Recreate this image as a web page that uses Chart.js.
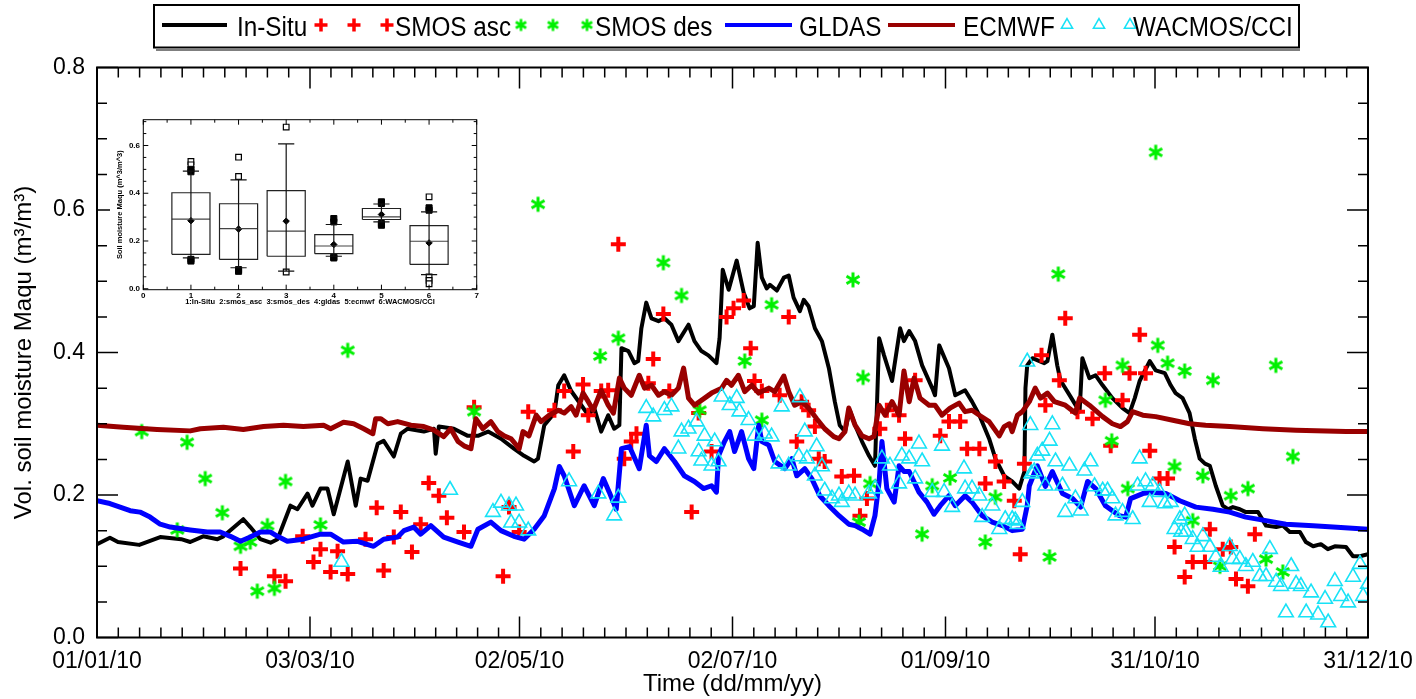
<!DOCTYPE html>
<html lang="en">
  <head>
    <meta charset="UTF-8" />
    <title>Soil moisture Maqu 2010</title>
    <style>
      body {
        margin: 0;
        background: #fff;
      }
      .wrap {
        position: relative;
        width: 1416px;
        height: 699px;
      }
      #mainChart {
        position: absolute;
        left: 0;
        top: 0;
      }
      #insetChart {
        position: absolute;
        left: 110px;
        top: 108px;
        background: #fff;
      }
    </style>
    <script src="https://cdn.jsdelivr.net/npm/chart.js"></script>
  </head>
  <body>
    <div class="wrap">
      <canvas id="mainChart" width="1416" height="699"></canvas>
      <canvas id="insetChart" width="380" height="205"></canvas>
    </div>

    <script>
      // day of year 2010 (0 = 01/01/10)
      const tickDays = [0, 61, 121, 182, 243, 303, 364];
      const tickLabels = ["01/01/10", "03/03/10", "02/05/10", "02/07/10", "01/09/10", "31/10/10", "31/12/10"];
      const yTickValues = [0, 0.2, 0.4, 0.6, 0.8];

      const inSituDays = [0, 3.7, 6, 12.1, 18.1, 24.1, 26.7, 30.4, 34.5, 36.2, 41.9, 43.9, 46.8, 49.7, 51.7, 55.4, 57.4, 60.3, 61.7, 64, 66, 67.8, 71.8, 74.1, 75.5, 77.5, 80.4, 82.1, 85, 87, 89, 93.6, 96.5, 97, 97.9, 102.2, 106.2, 109.1, 112, 115.7, 119.4, 122.3, 125.2, 126.3, 128.1, 131, 132.1, 133.8, 135.8, 138.7, 140.7, 142.4, 144.4, 146.4, 148.1, 149.6, 150.2, 152.2, 153.9, 155, 155.9, 157.3, 158.8, 160.8, 162.5, 164.5, 166.5, 169.4, 171.1, 173.1, 175.1, 177.4, 178.3, 179.2, 180.9, 183.2, 185.2, 186.9, 188.1, 189.2, 190.4, 191.8, 192.7, 194.7, 196.7, 198.1, 199.5, 201.3, 202.4, 203.8, 205.6, 207.6, 209.6, 211.3, 212.7, 214.2, 215.6, 217.1, 219.1, 221.1, 222.8, 224, 225.4, 227.7, 230, 231.1, 232.6, 234.3, 236.3, 239.2, 240, 241.2, 244, 245.8, 248.6, 250.6, 252.7, 255.5, 257.3, 259.8, 262.1, 264.1, 265.6, 265.9, 266.4, 267.9, 269.9, 271.3, 272.2, 273.6, 275, 275.9, 278.8, 281.4, 282.2, 284.2, 286, 288, 290.8, 293.7, 295.7, 297.2, 298.6, 301.5, 303.2, 305.8, 307.5, 308.9, 310.9, 312.9, 314.4, 315.8, 317.3, 318.7, 320.4, 322.4, 323.9, 325.3, 327.3, 329, 332.5, 334.8, 337.7, 339.6, 341.6, 344.5, 346.2, 348.3, 350.5, 352.5, 354.5, 357.7, 359.7, 361.7, 364];
      const inSituValues = [0.131, 0.14, 0.134, 0.13, 0.141, 0.138, 0.134, 0.142, 0.138, 0.142, 0.166, 0.155, 0.138, 0.133, 0.138, 0.185, 0.18, 0.202, 0.185, 0.209, 0.209, 0.173, 0.247, 0.185, 0.223, 0.22, 0.272, 0.276, 0.254, 0.286, 0.293, 0.289, 0.293, 0.258, 0.296, 0.293, 0.283, 0.283, 0.289, 0.279, 0.265, 0.255, 0.247, 0.251, 0.298, 0.315, 0.354, 0.368, 0.346, 0.326, 0.312, 0.322, 0.289, 0.312, 0.293, 0.298, 0.406, 0.402, 0.385, 0.388, 0.434, 0.47, 0.448, 0.444, 0.448, 0.439, 0.416, 0.439, 0.416, 0.402, 0.396, 0.385, 0.42, 0.516, 0.488, 0.529, 0.484, 0.462, 0.465, 0.554, 0.505, 0.49, 0.495, 0.487, 0.505, 0.508, 0.477, 0.458, 0.474, 0.465, 0.434, 0.416, 0.378, 0.331, 0.298, 0.289, 0.319, 0.298, 0.275, 0.255, 0.241, 0.42, 0.396, 0.36, 0.434, 0.416, 0.43, 0.416, 0.382, 0.35, 0.34, 0.41, 0.378, 0.34, 0.347, 0.331, 0.312, 0.279, 0.251, 0.227, 0.219, 0.209, 0.233, 0.35, 0.382, 0.392, 0.388, 0.385, 0.388, 0.425, 0.382, 0.361, 0.338, 0.317, 0.392, 0.364, 0.368, 0.354, 0.336, 0.322, 0.315, 0.336, 0.36, 0.388, 0.375, 0.371, 0.354, 0.343, 0.336, 0.315, 0.279, 0.251, 0.244, 0.241, 0.213, 0.185, 0.18, 0.183, 0.18, 0.176, 0.176, 0.157, 0.155, 0.157, 0.148, 0.148, 0.134, 0.128, 0.131, 0.124, 0.128, 0.127, 0.114, 0.114, 0.117];

      const gldasDays = [0, 3.7, 9.5, 12.3, 15.2, 18.1, 21, 26.7, 31.6, 35.3, 38.2, 41.1, 43.9, 46.8, 49.7, 51.7, 54.5, 59.1, 64, 66.9, 70.6, 74.6, 79.2, 82.1, 86.1, 87.9, 90.7, 92.7, 95.6, 99.3, 103.4, 107.1, 109.1, 112.8, 115.7, 119.4, 122.3, 125.2, 128.1, 131, 132.4, 133.8, 136.7, 139.5, 142.4, 145, 146.7, 148.7, 150.2, 152.5, 155.3, 157.3, 158.2, 160.2, 162.5, 165.4, 168.2, 171.1, 173.7, 176, 177.4, 178, 179.7, 181.2, 182.6, 184.6, 186.6, 188.1, 189.5, 190.4, 192.4, 194.1, 197, 199, 200.4, 202.7, 204.7, 207, 209.6, 212.5, 215.3, 217.1, 219.1, 221.4, 222.8, 224, 224.8, 226.2, 228.3, 229.7, 231.1, 232.6, 235.4, 237.7, 239.7, 241.5, 244, 245.8, 248.6, 250.6, 253.5, 256.4, 259.3, 262.1, 265, 266.4, 267, 269.3, 271.6, 273.6, 276.5, 279.4, 281.7, 283.7, 286, 288.8, 292.8, 294.6, 296, 299.5, 302.3, 306.1, 310.1, 314.7, 319.6, 324.4, 329, 334.8, 340.5, 348.3, 354, 364];
      const gldasValues = [0.192, 0.188, 0.178, 0.176, 0.169, 0.159, 0.155, 0.151, 0.148, 0.148, 0.142, 0.135, 0.141, 0.148, 0.148, 0.142, 0.135, 0.138, 0.145, 0.145, 0.134, 0.135, 0.128, 0.138, 0.141, 0.15, 0.155, 0.145, 0.157, 0.141, 0.134, 0.128, 0.152, 0.162, 0.15, 0.142, 0.138, 0.152, 0.171, 0.209, 0.24, 0.227, 0.185, 0.213, 0.185, 0.223, 0.204, 0.18, 0.265, 0.268, 0.237, 0.298, 0.255, 0.247, 0.265, 0.247, 0.227, 0.219, 0.209, 0.213, 0.204, 0.255, 0.275, 0.289, 0.261, 0.289, 0.251, 0.237, 0.298, 0.275, 0.27, 0.247, 0.237, 0.251, 0.227, 0.237, 0.223, 0.199, 0.185, 0.171, 0.159, 0.157, 0.152, 0.145, 0.171, 0.219, 0.275, 0.209, 0.19, 0.241, 0.233, 0.233, 0.204, 0.19, 0.173, 0.185, 0.199, 0.185, 0.199, 0.19, 0.171, 0.162, 0.157, 0.15, 0.152, 0.185, 0.213, 0.241, 0.212, 0.233, 0.202, 0.195, 0.183, 0.219, 0.209, 0.185, 0.171, 0.169, 0.195, 0.202, 0.204, 0.202, 0.192, 0.183, 0.18, 0.176, 0.169, 0.164, 0.159, 0.157, 0.155, 0.152];

      const ecmwfDays = [0, 7.5, 17.2, 26.7, 29.6, 36.2, 41.9, 47.7, 53.4, 59.1, 64.9, 66.9, 70.6, 73.5, 76.4, 79, 79.8, 81.3, 83.3, 86.1, 89.9, 93.6, 96.5, 99.3, 101.3, 103.4, 105.1, 107.1, 108.5, 110.5, 112.8, 114.8, 116.6, 118.6, 120.9, 122, 123.7, 125.8, 127.2, 129.5, 132.1, 133.8, 135.8, 137.2, 139.2, 140.7, 142.1, 144.4, 146.4, 147.9, 149.6, 151, 153, 155.3, 156.8, 158.8, 160.8, 162.5, 164.5, 166.5, 168, 169.4, 171.1, 174, 176, 178.9, 180.3, 181.7, 183.7, 185.5, 187.5, 189.5, 192.4, 194.1, 196.7, 198.1, 199.8, 201.8, 203.8, 206.1, 208.4, 211, 212.5, 214.2, 215.3, 217.1, 219.1, 221.1, 222.5, 224, 225.7, 227.7, 229.7, 231.1, 232.6, 234, 235.7, 238.3, 240, 242, 244.3, 246.9, 248.6, 250.6, 252.7, 255.5, 258.4, 259.8, 261.3, 262.1, 263.6, 265, 267, 268.7, 270.2, 272.2, 274.2, 277.3, 280.2, 281.4, 284.2, 288, 290.8, 293.1, 295.1, 296.6, 299.5, 303.2, 308.1, 312.9, 317.5, 324.4, 333.9, 343.4, 357.7, 364];
      const ecmwfValues = [0.298, 0.295, 0.292, 0.29, 0.293, 0.295, 0.292, 0.296, 0.298, 0.296, 0.298, 0.293, 0.302, 0.3, 0.293, 0.286, 0.307, 0.307, 0.3, 0.303, 0.298, 0.296, 0.291, 0.282, 0.293, 0.275, 0.269, 0.265, 0.307, 0.293, 0.303, 0.289, 0.283, 0.279, 0.265, 0.289, 0.283, 0.312, 0.303, 0.312, 0.319, 0.315, 0.324, 0.312, 0.343, 0.331, 0.319, 0.347, 0.326, 0.315, 0.364, 0.35, 0.34, 0.368, 0.35, 0.354, 0.34, 0.345, 0.34, 0.35, 0.378, 0.336, 0.326, 0.336, 0.343, 0.35, 0.361, 0.354, 0.368, 0.345, 0.354, 0.343, 0.35, 0.345, 0.367, 0.345, 0.326, 0.331, 0.322, 0.307, 0.293, 0.282, 0.279, 0.289, 0.322, 0.298, 0.283, 0.279, 0.282, 0.326, 0.312, 0.331, 0.312, 0.374, 0.331, 0.364, 0.336, 0.326, 0.326, 0.312, 0.322, 0.329, 0.317, 0.319, 0.312, 0.303, 0.283, 0.296, 0.3, 0.289, 0.312, 0.317, 0.331, 0.35, 0.336, 0.343, 0.331, 0.326, 0.315, 0.336, 0.326, 0.31, 0.3, 0.296, 0.303, 0.317, 0.312, 0.31, 0.305, 0.3, 0.298, 0.296, 0.293, 0.291, 0.289, 0.289];

      const smosAscDays = [41.1, 50.8, 54, 58.9, 62, 64, 66.9, 68.9, 71.8, 76.9, 80.1, 82.1, 85, 87, 90.2, 92.7, 95, 97.9, 100.2, 105.1, 108, 116.3, 118, 120.9, 123.5, 131, 133.8, 136.4, 139.2, 140.7, 144.4, 146.4, 149.3, 151, 153, 154.5, 157.9, 159.3, 162.2, 163.9, 170.3, 172.3, 176, 180.3, 182.3, 185.2, 187.2, 188.3, 190.4, 195.5, 198.1, 200.4, 201.8, 203.8, 205.6, 206.7, 208.4, 213.3, 216.8, 218.5, 220.5, 224.2, 226.2, 229.7, 231.4, 234.3, 241.5, 244, 247.2, 249.2, 252.7, 254.4, 257.3, 259.8, 262.7, 264.4, 265.6, 270.5, 271.6, 275.6, 277.3, 280.8, 285.1, 288.6, 290.3, 293.7, 295.7, 298.6, 300.3, 301.5, 304.3, 306.6, 308.6, 311.5, 313.8, 317.3, 318.7, 322.4, 324.7, 326.2, 329.6, 331.6];
      const smosAscValues = [0.097, 0.086, 0.079, 0.142, 0.106, 0.124, 0.092, 0.121, 0.089, 0.138, 0.182, 0.094, 0.141, 0.176, 0.12, 0.159, 0.217, 0.199, 0.168, 0.148, 0.323, 0.086, 0.183, 0.148, 0.317, 0.319, 0.346, 0.261, 0.355, 0.312, 0.346, 0.347, 0.552, 0.251, 0.275, 0.286, 0.357, 0.391, 0.454, 0.346, 0.176, 0.315, 0.261, 0.45, 0.462, 0.473, 0.406, 0.36, 0.346, 0.34, 0.45, 0.275, 0.331, 0.319, 0.296, 0.251, 0.247, 0.226, 0.227, 0.171, 0.195, 0.293, 0.319, 0.312, 0.279, 0.361, 0.283, 0.303, 0.303, 0.265, 0.265, 0.216, 0.247, 0.219, 0.192, 0.117, 0.244, 0.396, 0.326, 0.361, 0.448, 0.317, 0.307, 0.371, 0.269, 0.333, 0.371, 0.425, 0.371, 0.262, 0.223, 0.223, 0.127, 0.085, 0.106, 0.106, 0.152, 0.124, 0.127, 0.082, 0.072, 0.145];

      const smosDesDays = [12.8, 23, 25.8, 31, 35.9, 41.1, 43.9, 45.9, 48.8, 50.8, 54, 64, 71.8, 108, 126.3, 144.1, 149.3, 162.2, 167.4, 172.6, 185.5, 190.4, 193.2, 216.5, 218.2, 219.4, 221.4, 236.3, 239.2, 244.3, 254.4, 257.3, 272.8, 275.3, 288.8, 290.6, 293.7, 295.2, 303.2, 303.8, 306.6, 308.6, 311.5, 313.8, 316.7, 319.6, 321.6, 324.7, 329.6, 334.8, 337.6, 339.6, 342.5];
      const smosDesValues = [0.289, 0.151, 0.274, 0.223, 0.175, 0.128, 0.134, 0.065, 0.157, 0.069, 0.219, 0.158, 0.403, 0.317, 0.608, 0.395, 0.42, 0.526, 0.48, 0.319, 0.388, 0.305, 0.467, 0.502, 0.162, 0.365, 0.216, 0.145, 0.213, 0.224, 0.134, 0.197, 0.113, 0.51, 0.333, 0.276, 0.382, 0.209, 0.681, 0.41, 0.385, 0.24, 0.374, 0.164, 0.227, 0.361, 0.1, 0.199, 0.209, 0.11, 0.382, 0.092, 0.254];

      const wacmosDays = [70, 101.1, 113.4, 115.7, 118, 120, 118.6, 120.9, 123.5, 135.2, 143.6, 148.1, 149.3, 157.3, 159.3, 162.5, 164.5, 166.5, 167.4, 169.4, 171.7, 172.3, 173.1, 174, 176, 176.9, 178, 178.9, 181.2, 183.2, 184, 186.6, 188.3, 191.2, 193.2, 195.2, 196.1, 198.1, 201, 201.3, 202.7, 203.3, 205.6, 206.1, 207.6, 208.4, 210.5, 212.5, 213.3, 215.3, 217.1, 221.1, 222.8, 224.8, 227.1, 229.7, 230.5, 232.6, 234.3, 235.4, 236.3, 239.2, 242, 242.6, 244.9, 248.3, 248.6, 250.6, 252.7, 253.5, 256.4, 258.4, 260.1, 262.1, 263, 263.6, 265, 266.4, 267.3, 267.6, 268.4, 269.3, 270.7, 271.6, 272.8, 273.6, 274.5, 276.5, 277.3, 278.5, 280.2, 281.7, 282.8, 284.5, 285.7, 288, 289.4, 290.8, 291.7, 293.7, 296.6, 298, 298.6, 300.3, 301.5, 302.3, 304.3, 305.8, 307.5, 308.6, 310.1, 310.5, 311.5, 311.8, 313.8, 315.2, 316.7, 318.7, 320.4, 321.8, 324.4, 325.3, 327.3, 329, 331, 333, 334.8, 335.9, 337.7, 339.1, 340.5, 342, 343.4, 344.8, 346.3, 347.7, 349.7, 351.7, 352.6, 354.5, 356.3, 358.3, 359.7, 361.7, 362.6, 364];
      const wacmosValues = [0.106, 0.207, 0.176, 0.189, 0.185, 0.185, 0.161, 0.161, 0.15, 0.219, 0.202, 0.171, 0.196, 0.322, 0.31, 0.319, 0.324, 0.265, 0.289, 0.293, 0.303, 0.261, 0.248, 0.283, 0.241, 0.275, 0.247, 0.338, 0.326, 0.336, 0.317, 0.305, 0.283, 0.286, 0.282, 0.244, 0.324, 0.241, 0.254, 0.337, 0.289, 0.251, 0.227, 0.268, 0.24, 0.206, 0.195, 0.199, 0.19, 0.202, 0.199, 0.202, 0.209, 0.251, 0.241, 0.216, 0.255, 0.251, 0.223, 0.272, 0.247, 0.204, 0.269, 0.204, 0.183, 0.237, 0.209, 0.209, 0.199, 0.169, 0.185, 0.152, 0.166, 0.166, 0.164, 0.159, 0.19, 0.387, 0.298, 0.23, 0.233, 0.255, 0.262, 0.213, 0.276, 0.299, 0.247, 0.213, 0.176, 0.241, 0.195, 0.178, 0.234, 0.247, 0.212, 0.206, 0.206, 0.195, 0.171, 0.176, 0.166, 0.213, 0.251, 0.219, 0.19, 0.213, 0.204, 0.188, 0.19, 0.152, 0.166, 0.148, 0.171, 0.148, 0.138, 0.127, 0.142, 0.127, 0.113, 0.099, 0.128, 0.11, 0.11, 0.1, 0.106, 0.086, 0.086, 0.124, 0.078, 0.072, 0.035, 0.1, 0.075, 0.072, 0.035, 0.063, 0.032, 0.054, 0.021, 0.079, 0.058, 0.049, 0.085, 0.103, 0.058, 0.075];

      // inset box plot statistics
      const boxCenters = [1, 2, 3, 4, 5, 6];
      const boxQ1 = [0.144, 0.123, 0.136, 0.147, 0.29, 0.102];
      const boxMedian = [0.292, 0.252, 0.241, 0.179, 0.301, 0.199];
      const boxQ3 = [0.402, 0.356, 0.411, 0.227, 0.336, 0.264];
      const whiskerLow = [0.129, 0.088, 0.074, 0.136, 0.28, 0.059];
      const whiskerHigh = [0.493, 0.456, 0.607, 0.269, 0.355, 0.322];
      const boxMeans = [0.285, 0.25, 0.283, 0.185, 0.311, 0.192];
      const filledOutX = [1, 1, 1, 1, 2, 2, 4, 4, 4, 4, 5, 5, 5, 5, 6, 6];
      const filledOutY = [0.5, 0.49, 0.123, 0.116, 0.08, 0.073, 0.294, 0.28, 0.133, 0.129, 0.364, 0.357, 0.273, 0.266, 0.339, 0.329];
      const openOutX = [1, 1, 2, 2, 3, 3, 6, 6, 6, 6];
      const openOutY = [0.533, 0.519, 0.551, 0.47, 0.677, 0.07, 0.385, 0.049, 0.035, 0.021];

      const FONT = 'Arial, "Liberation Sans", sans-serif';
      Chart.defaults.font.family = FONT;
      Chart.defaults.color = "#000";

      const pts = (xs, ys) => xs.map((x, i) => ({ x: x, y: ys[i] }));

      // six-armed asterisk used as point style for SMOS des
      function makeStar(arm, lw, color) {
        const size = Math.ceil(2 * arm + lw + 2);
        const c = document.createElement("canvas");
        c.width = size;
        c.height = size;
        const g = c.getContext("2d");
        g.strokeStyle = color;
        g.lineWidth = lw;
        g.beginPath();
        [90, 30, 150].forEach((deg) => {
          const r = (deg * Math.PI) / 180;
          g.moveTo(size / 2 - arm * Math.cos(r), size / 2 - arm * Math.sin(r));
          g.lineTo(size / 2 + arm * Math.cos(r), size / 2 + arm * Math.sin(r));
        });
        g.stroke();
        return c;
      }
      const GREEN = "#00f000";
      const starBig = makeStar(7.5, 3, GREEN);
      const starSmall = makeStar(6, 2.6, GREEN);

      // inward ticks on all four sides + frame
      function drawFrame(chart, o) {
        const { ctx, chartArea: a, scales } = chart;
        const xs = scales.x;
        const ys = scales.y;
        ctx.save();
        ctx.strokeStyle = "#000";
        ctx.lineWidth = o.frameWidth;
        ctx.strokeRect(a.left, a.top, a.right - a.left, a.bottom - a.top);
        ctx.lineWidth = o.tickWidth;
        ctx.beginPath();
        for (let i = 0; i < o.xMajor.length; i++) {
          const last = i === o.xMajor.length - 1;
          for (let k = 0; k < (last ? 1 : o.xSub); k++) {
            const v = last ? o.xMajor[i] : o.xMajor[i] + ((o.xMajor[i + 1] - o.xMajor[i]) * k) / o.xSub;
            const px = xs.getPixelForValue(v);
            const len = k === 0 ? o.major : o.minor;
            ctx.moveTo(px, a.bottom);
            ctx.lineTo(px, a.bottom - len);
            ctx.moveTo(px, a.top);
            ctx.lineTo(px, a.top + len);
          }
        }
        for (let j = 0; j <= o.yCount; j++) {
          const py = ys.getPixelForValue(j * o.yStep);
          const len = j % o.yEvery === 0 ? o.major : o.minor;
          ctx.moveTo(a.left, py);
          ctx.lineTo(a.left + len, py);
          ctx.moveTo(a.right, py);
          ctx.lineTo(a.right - len, py);
        }
        ctx.stroke();
        ctx.restore();
      }

      // legend layout: dataset index, marker x positions or line span, text x
      const legendLayout = [
        { ds: 0, line: [162, 227], textX: 237 },
        { ds: 1, marks: [321, 354, 387], r: 6.5, w: 3.5, textX: 395 },
        { ds: 2, marks: [521, 553, 587], style: starSmall, textX: 595 },
        { ds: 3, line: [725, 792], textX: 799 },
        { ds: 4, line: [888, 955], textX: 963 },
        { ds: 5, marks: [1067, 1099, 1130], r: 6.5, w: 1.5, textX: 1133 },
      ];

      const mainPlugin = {
        id: "mainFrame",
        afterDatasetsDraw(chart) {
          drawFrame(chart, {
            xMajor: tickDays, xSub: 10, yStep: 0.05, yCount: 16, yEvery: 4,
            major: 21, minor: 10, frameWidth: 2, tickWidth: 1.5,
          });
        },
        afterDraw(chart) {
          const ctx = chart.ctx;
          const mid = 25;
          ctx.save();
          ctx.strokeStyle = "#000";
          ctx.lineWidth = 2;
          ctx.strokeRect(154, 5, 1145, 42.5);
          ctx.lineWidth = 1;
          ctx.beginPath();
          ctx.moveTo(156, 50);
          ctx.lineTo(1300, 50);
          ctx.stroke();
          legendLayout.forEach((item) => {
            const ds = chart.data.datasets[item.ds];
            if (item.line) {
              ctx.strokeStyle = ds.borderColor;
              ctx.lineWidth = 4;
              ctx.beginPath();
              ctx.moveTo(item.line[0], mid);
              ctx.lineTo(item.line[1], mid);
              ctx.stroke();
            } else {
              item.marks.forEach((mx) => {
                ctx.strokeStyle = ds.pointBorderColor;
                ctx.fillStyle = "rgba(0,0,0,0)";
                ctx.lineWidth = item.w || 1;
                Chart.helpers.drawPoint(
                  ctx,
                  { pointStyle: item.style || ds.pointStyle, radius: item.r || 6, borderWidth: item.w || 0, rotation: 0 },
                  mx,
                  mid
                );
              });
            }
            ctx.save();
            ctx.translate(item.textX, 36);
            ctx.scale(0.9, 1);
            ctx.fillStyle = "#000";
            ctx.font = "27px " + FONT;
            ctx.textBaseline = "alphabetic";
            ctx.fillText(ds.label, 0, 0);
            ctx.restore();
          });
          ctx.restore();
        },
      };

      new Chart(document.getElementById("mainChart").getContext("2d"), {
        type: "scatter",
        data: {
          datasets: [
            {
              label: "In-Situ",
              data: pts(inSituDays, inSituValues),
              showLine: true,
              borderColor: "#000000",
              borderWidth: 4,
              borderJoinStyle: "round",
              pointRadius: 0,
              order: 6,
            },
            {
              label: "SMOS asc",
              data: pts(smosAscDays, smosAscValues),
              pointStyle: "cross",
              pointRadius: 7.5,
              pointBorderWidth: 4,
              pointBorderColor: "#ff0000",
              borderColor: "#ff0000",
              order: 5,
            },
            {
              label: "SMOS des",
              data: pts(smosDesDays, smosDesValues),
              pointStyle: starBig,
              pointRadius: 7.5,
              pointBorderColor: GREEN,
              borderColor: GREEN,
              order: 4,
            },
            {
              label: "GLDAS",
              data: pts(gldasDays, gldasValues),
              showLine: true,
              borderColor: "#0000ff",
              borderWidth: 5,
              borderJoinStyle: "round",
              pointRadius: 0,
              order: 3,
            },
            {
              label: "ECMWF",
              data: pts(ecmwfDays, ecmwfValues),
              showLine: true,
              borderColor: "#990000",
              borderWidth: 5,
              borderJoinStyle: "round",
              pointRadius: 0,
              order: 2,
            },
            {
              label: "WACMOS/CCI",
              data: pts(wacmosDays, wacmosValues),
              pointStyle: "triangle",
              pointRadius: 8.5,
              pointBorderWidth: 1.6,
              pointBorderColor: "#18e2f6",
              pointBackgroundColor: "rgba(0,0,0,0)",
              borderColor: "#18e2f6",
              order: 1,
            },
          ],
        },
        options: {
          responsive: false,
          animation: false,
          layout: { padding: { top: 67.5, right: 48, left: 0, bottom: 0 } },
          plugins: { legend: { display: false }, tooltip: { enabled: false } },
          scales: {
            x: {
              type: "linear",
              min: 0,
              max: 364,
              afterBuildTicks: (s) => {
                s.ticks = tickDays.map((v) => ({ value: v }));
              },
              afterFit: (s) => {
                s.height = 61.5;
                s.paddingRight = 0;
                s.paddingLeft = 0;
              },
              ticks: {
                autoSkip: false,
                maxRotation: 0,
                padding: 10,
                font: { size: 23 },
                callback: (v, i) => tickLabels[i],
              },
              grid: { display: false, drawTicks: false },
              border: { display: false },
              title: { display: true, text: "Time (dd/mm/yy)", font: { size: 24 }, padding: 0 },
            },
            y: {
              min: 0,
              max: 0.8,
              afterBuildTicks: (s) => {
                s.ticks = yTickValues.map((v) => ({ value: v }));
              },
              afterFit: (s) => {
                s.width = 97;
              },
              ticks: { padding: 12, font: { size: 23 }, callback: (v) => v.toFixed(1) },
              grid: { display: false, drawTicks: false },
              border: { display: false },
              title: {
                display: true,
                text: "Vol. soil moisture Maqu (m\u00b3/m\u00b3)",
                font: { size: 24 },
                padding: { top: 10, bottom: 0 },
              },
            },
          },
        },
        plugins: [mainPlugin],
      });

      // inset: box plot made of line segments on the library's scales
      const BOX_HALF = 0.4;
      const CAP_HALF = 0.17;
      const boxOutline = [];
      const medianSegs = [];
      const whiskerSegs = [];
      boxCenters.forEach((c, i) => {
        const l = c - BOX_HALF;
        const r = c + BOX_HALF;
        boxOutline.push(
          { x: l, y: boxQ1[i] }, { x: r, y: boxQ1[i] }, { x: r, y: boxQ3[i] },
          { x: l, y: boxQ3[i] }, { x: l, y: boxQ1[i] }, { x: c, y: null }
        );
        medianSegs.push({ x: l, y: boxMedian[i] }, { x: r, y: boxMedian[i] }, { x: c, y: null });
        whiskerSegs.push(
          { x: c, y: whiskerLow[i] }, { x: c, y: whiskerHigh[i] }, { x: c, y: null },
          { x: c - CAP_HALF, y: whiskerLow[i] }, { x: c + CAP_HALF, y: whiskerLow[i] }, { x: c, y: null },
          { x: c - CAP_HALF, y: whiskerHigh[i] }, { x: c + CAP_HALF, y: whiskerHigh[i] }, { x: c, y: null }
        );
      });

      const segStyle = { showLine: true, spanGaps: false, pointRadius: 0, borderWidth: 1.2 };

      new Chart(document.getElementById("insetChart").getContext("2d"), {
        type: "scatter",
        data: {
          datasets: [
            Object.assign({ data: whiskerSegs, borderColor: "#111" }, segStyle),
            Object.assign({ data: boxOutline, borderColor: "#222" }, segStyle),
            Object.assign({ data: medianSegs, borderColor: "#444" }, segStyle),
            {
              data: pts(boxCenters, boxMeans),
              pointStyle: "rectRot",
              pointRadius: 3.2,
              pointBackgroundColor: "#000",
              pointBorderColor: "#000",
            },
            {
              data: pts(filledOutX, filledOutY),
              pointStyle: "rect",
              pointRadius: 4.3,
              pointBackgroundColor: "#000",
              pointBorderColor: "#000",
            },
            {
              data: pts(openOutX, openOutY),
              pointStyle: "rect",
              pointRadius: 4,
              pointBorderWidth: 1.2,
              pointBackgroundColor: "#fff",
              pointBorderColor: "#000",
            },
          ],
        },
        options: {
          responsive: false,
          animation: false,
          layout: { padding: { top: 11.7, right: 13.3, left: 0, bottom: 0 } },
          plugins: { legend: { display: false }, tooltip: { enabled: false } },
          scales: {
            x: {
              type: "linear",
              min: 0,
              max: 7,
              afterFit: (s) => {
                s.height = 23.3;
              },
              ticks: { stepSize: 1, padding: 1, font: { size: 8, weight: "bold" } },
              grid: { display: false, drawTicks: false },
              border: { display: false },
              title: {
                display: true,
                text: "1:In-Situ  2:smos_asc  3:smos_des  4:gldas  5:ecmwf  6:WACMOS/CCI",
                font: { size: 7.5, weight: "bold" },
                padding: { top: 0, bottom: 6.5 },
              },
            },
            y: {
              min: -0.004,
              max: 0.708,
              afterBuildTicks: (s) => {
                s.ticks = [0, 0.2, 0.4, 0.6].map((v) => ({ value: v }));
              },
              afterFit: (s) => {
                s.width = 33.3;
              },
              ticks: { padding: 3.3, font: { size: 8, weight: "bold" }, callback: (v) => v.toFixed(1) },
              grid: { display: false, drawTicks: false },
              border: { display: false },
              title: {
                display: true,
                text: "Soil moisture Maqu (m^3/m^3)",
                font: { size: 7.5, weight: "bold" },
                padding: { top: 5.5, bottom: 0 },
              },
            },
          },
        },
        plugins: [
          {
            id: "insetFrame",
            afterDatasetsDraw(chart) {
              drawFrame(chart, {
                xMajor: [0, 1, 2, 3, 4, 5, 6, 7], xSub: 2, yStep: 0.05, yCount: 14, yEvery: 4,
                major: 5, minor: 3, frameWidth: 1, tickWidth: 1,
              });
            },
          },
        ],
      });
    </script>
  </body>
</html>
